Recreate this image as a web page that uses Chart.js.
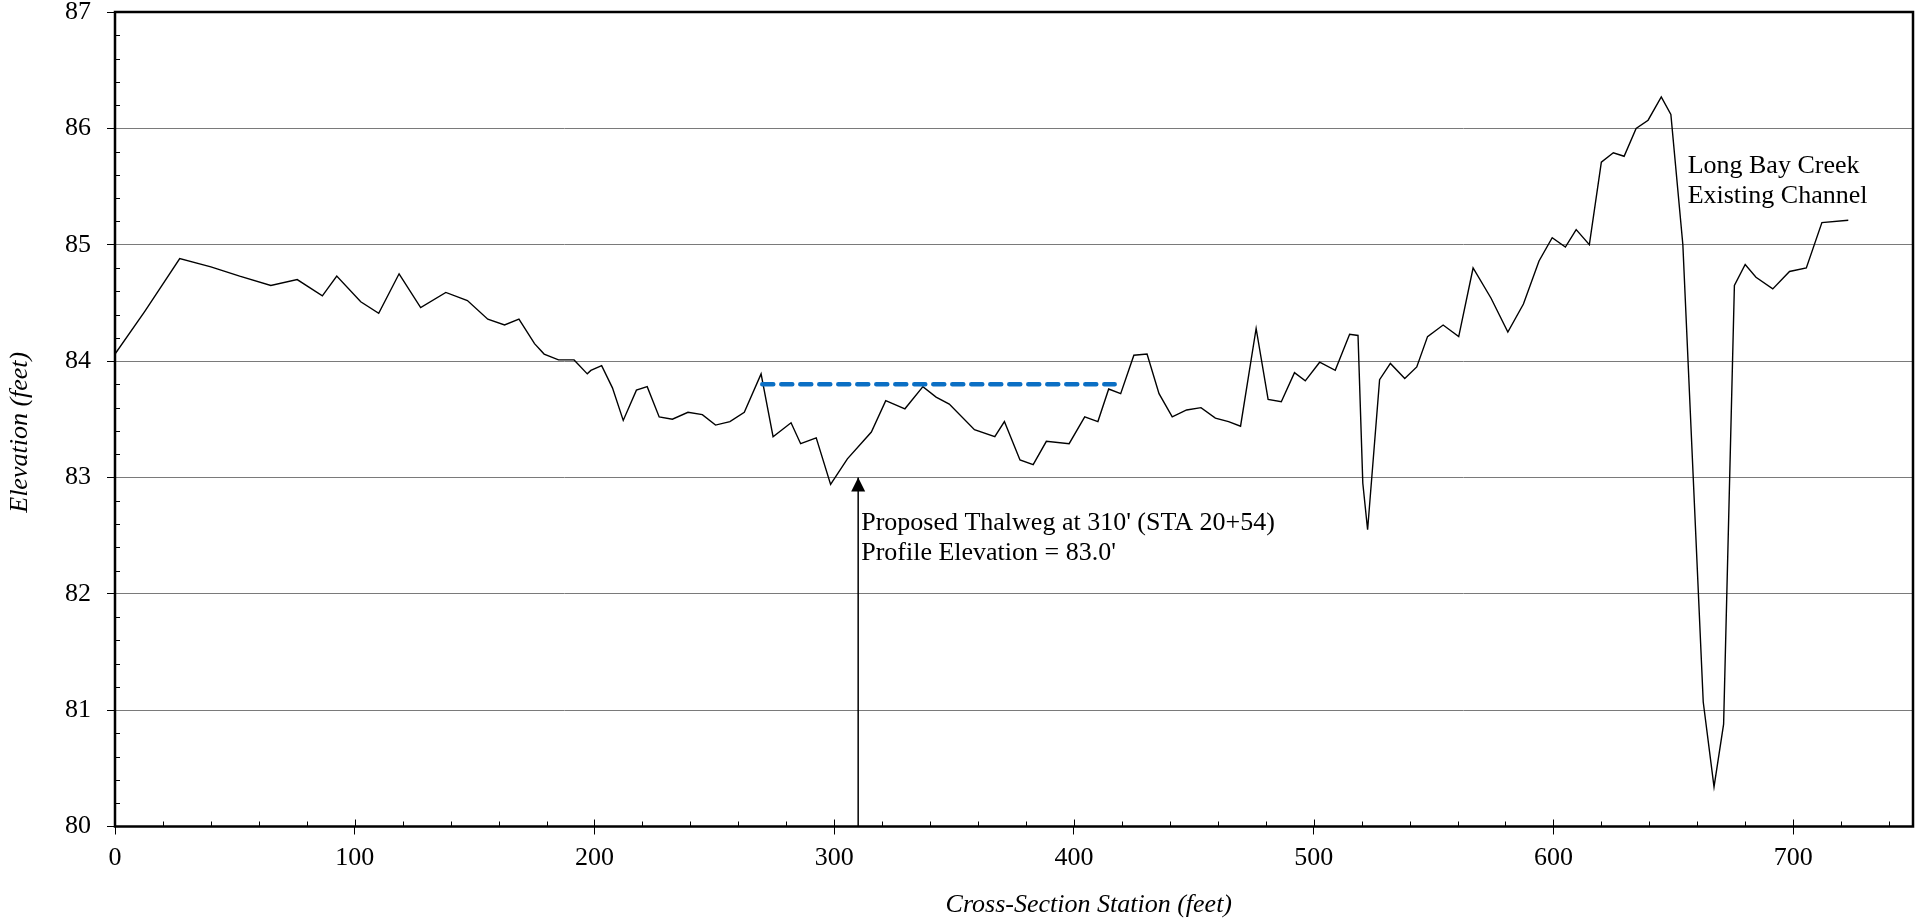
<!DOCTYPE html>
<html>
<head>
<meta charset="utf-8">
<title>Long Bay Creek Cross-Section</title>
<script src="https://cdn.jsdelivr.net/npm/chart.js@4.4.1/dist/chart.umd.min.js"></script>
<style>
  html, body { margin: 0; padding: 0; background: #fff; overflow: hidden; }
  canvas { display: block; }
</style>
</head>
<body>
<canvas id="xsec" width="1915" height="921"></canvas>
<script>
// Surveyed ground profile (station in feet, elevation in feet)
const stations = [
  0, 12.5, 27, 40, 52, 65, 76, 86.5, 92.5, 102.5,
  110, 118.5, 127.5, 138, 147, 155.5, 162.5, 168.5, 175, 179,
  185, 191.5, 197, 198.5, 203, 207.5, 212, 217.5, 222, 227,
  232.5, 239, 245, 250.5, 256.5, 262.5, 269.5, 274.5, 282, 286,
  292.5, 298.5, 305.5, 315.5, 321.5, 329.5, 337, 342.5, 348, 358.5,
  367, 371, 377.5, 383, 388.5, 398, 404.5, 410, 414.5, 419.5,
  425, 430.5, 435.5, 441, 447, 453, 459, 464.5, 469.5, 476,
  481, 486.5, 492, 496.5, 502.5, 509, 515, 518.5, 520.5, 522.5,
  527.5, 532, 538, 543, 547.5, 554, 560.5, 566.5, 574, 581,
  587.5, 594, 599.5, 605, 609.5, 615, 620, 625, 629.5, 634.5,
  639.5, 645, 649, 654, 662.5, 667, 671, 675.5, 680, 684.5,
  691.5, 698.5, 705.5, 712, 723
];
const elevations = [
  84.06, 84.43, 84.88, 84.81, 84.73, 84.65, 84.70, 84.56, 84.73, 84.51,
  84.41, 84.75, 84.46, 84.59, 84.52, 84.36, 84.31, 84.36, 84.15, 84.06,
  84.01, 84.01, 83.89, 83.92, 83.96, 83.77, 83.49, 83.75, 83.78, 83.52,
  83.50, 83.56, 83.54, 83.45, 83.48, 83.56, 83.89, 83.35, 83.47, 83.29,
  83.34, 82.94, 83.16, 83.39, 83.66, 83.59, 83.78, 83.69, 83.63, 83.41,
  83.35, 83.48, 83.15, 83.11, 83.31, 83.29, 83.52, 83.48, 83.76, 83.72,
  84.05, 84.06, 83.72, 83.52, 83.58, 83.60, 83.51, 83.48, 83.44, 84.28,
  83.67, 83.65, 83.90, 83.83, 83.99, 83.92, 84.23, 84.22, 82.95, 82.55,
  83.84, 83.98, 83.85, 83.95, 84.21, 84.31, 84.21, 84.80, 84.54, 84.25,
  84.49, 84.86, 85.06, 84.98, 85.13, 85.00, 85.71, 85.79, 85.76, 86.00,
  86.07, 86.27, 86.12, 85.00, 81.07, 80.34, 80.88, 84.65, 84.83, 84.72,
  84.62, 84.77, 84.80, 85.19, 85.21
];

// Proposed water surface across the channel
const waterStations = [270, 417];
const waterElevations = [83.8, 83.8];

// Proposed thalweg location
const thalwegStation = 310;
const thalwegElevation = 83.0;

// Axis ranges and tick labels
const xTickValues = [0, 100, 200, 300, 400, 500, 600, 700];
const yTickValues = [80, 81, 82, 83, 84, 85, 86, 87];
const xRange = [0, 750];
const yRange = [80, 87];

// Text
const xTitle = 'Cross-Section Station (feet)';
const yTitle = 'Elevation (feet)';
const thalwegNote = ["Proposed Thalweg at 310' (STA 20+54)", "Profile Elevation = 83.0'"];
const channelNote = ['Long Bay Creek', 'Existing Channel'];

const SERIF = "'Liberation Serif', 'Times New Roman', Times, serif";

const toPoints = (xs, ys) => xs.map((v, i) => ({ x: v, y: ys[i] }));

// Frame, minor ticks, arrowhead, notes and axis titles
const decorations = {
  id: 'decorations',
  afterDatasetsDraw(chart) {
    const { ctx, chartArea: a, scales: { x, y } } = chart;
    ctx.save();

    // minor ticks pointing into the plot
    ctx.strokeStyle = '#000';
    ctx.lineWidth = 1;
    ctx.beginPath();
    for (let i = 1; i < 35; i++) {
      if (i % 5 === 0) continue;
      const py = Math.round(y.getPixelForValue(yRange[0] + i * 0.2)) + 0.5;
      ctx.moveTo(a.left, py);
      ctx.lineTo(a.left + 5, py);
    }
    for (let v = 20; v < xRange[1]; v += 20) {
      const px = Math.round(x.getPixelForValue(v)) + 0.5;
      ctx.moveTo(px, a.bottom);
      ctx.lineTo(px, a.bottom - (v % 100 === 0 ? 7 : 5));
    }
    ctx.stroke();

    // plot frame
    ctx.lineWidth = 2.5;
    ctx.strokeRect(a.left, a.top, a.right - a.left, a.bottom - a.top);

    // arrowhead at the proposed thalweg
    const tx = x.getPixelForValue(thalwegStation);
    const ty = y.getPixelForValue(thalwegElevation);
    ctx.fillStyle = '#000';
    ctx.beginPath();
    ctx.moveTo(tx, ty);
    ctx.lineTo(tx - 7, ty + 14);
    ctx.lineTo(tx + 7, ty + 14);
    ctx.closePath();
    ctx.fill();

    // notes
    ctx.font = `26px ${SERIF}`;
    ctx.textAlign = 'left';
    ctx.textBaseline = 'alphabetic';
    thalwegNote.forEach((t, i) => ctx.fillText(t, tx + 3, ty + 53 + i * 30));
    const cx = x.getPixelForValue(656);
    const cy = y.getPixelForValue(85.62);
    channelNote.forEach((t, i) => ctx.fillText(t, cx, cy + i * 30));

    // axis titles
    ctx.font = `italic 26px ${SERIF}`;
    ctx.textAlign = 'center';
    ctx.textBaseline = 'middle';
    ctx.fillText(xTitle, a.left + (a.right - a.left) * 0.5416, 905);
    ctx.translate(20, a.top + (a.bottom - a.top) * 0.5 + 13);
    ctx.rotate(-Math.PI / 2);
    ctx.fillText(yTitle, 0, 0);

    ctx.restore();
  }
};

new Chart(document.getElementById('xsec'), {
  type: 'scatter',
  data: {
    datasets: [
      {
        label: 'Existing Channel',
        data: toPoints(stations, elevations),
        showLine: true,
        borderColor: '#000',
        borderWidth: 1.4,
        pointRadius: 0,
        tension: 0,
        order: 2
      },
      {
        label: 'Proposed Water Surface',
        data: toPoints(waterStations, waterElevations),
        showLine: true,
        borderColor: '#0B6FC4',
        borderWidth: 4.5,
        borderDash: [11, 8],
        borderCapStyle: 'round',
        pointRadius: 0,
        order: 1
      },
      {
        label: 'Proposed Thalweg',
        data: toPoints([thalwegStation, thalwegStation], [yRange[0], thalwegElevation]),
        showLine: true,
        borderColor: '#000',
        borderWidth: 1.5,
        pointRadius: 0,
        order: 0
      }
    ]
  },
  options: {
    responsive: false,
    devicePixelRatio: 1,
    animation: false,
    events: [],
    layout: { padding: { top: 12, right: 2, bottom: 0, left: 0 } },
    plugins: {
      legend: { display: false },
      tooltip: { enabled: false },
      title: { display: false }
    },
    scales: {
      x: {
        type: 'linear',
        min: xRange[0],
        max: xRange[1],
        afterBuildTicks: s => { s.ticks = xTickValues.map(v => ({ value: v })); },
        afterFit: s => {
          s.height = 94.5;
          s.paddingLeft = 0;
          s.paddingRight = 0;
        },
        ticks: {
          color: '#000',
          font: { family: SERIF, size: 26 },
          padding: 8,
          maxRotation: 0,
          autoSkip: false
        },
        grid: {
          drawOnChartArea: false,
          drawTicks: true,
          tickLength: 8,
          tickColor: '#000',
          color: '#000'
        },
        border: { display: false }
      },
      y: {
        type: 'linear',
        min: yRange[0],
        max: yRange[1],
        afterBuildTicks: s => { s.ticks = yTickValues.map(v => ({ value: v })); },
        afterFit: s => {
          s.width = 115;
          s.paddingTop = 0;
          s.paddingBottom = 0;
        },
        ticks: {
          color: '#000',
          font: { family: SERIF, size: 26 },
          padding: 16,
          autoSkip: false
        },
        grid: {
          color: '#7a7a7a',
          lineWidth: 1,
          drawTicks: true,
          tickLength: 8,
          tickColor: '#000'
        },
        border: { display: false }
      }
    }
  },
  plugins: [decorations]
});
</script>
</body>
</html>
